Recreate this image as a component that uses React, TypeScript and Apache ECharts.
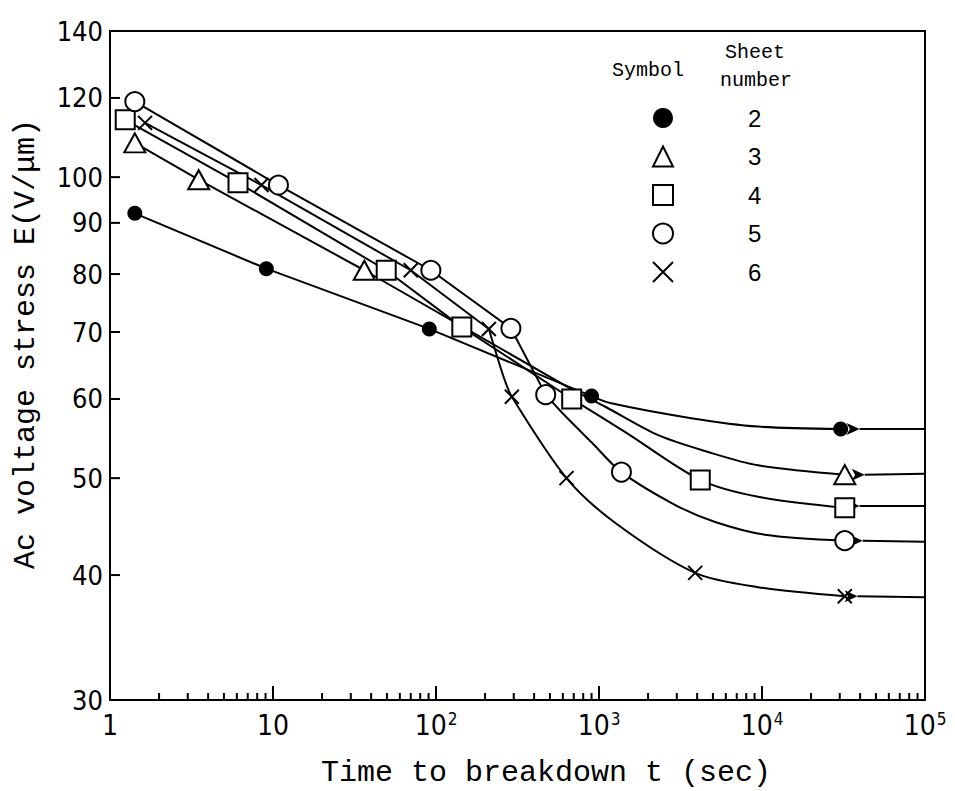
import React, { useEffect, useRef } from 'react';
import * as echarts from 'echarts';

// ---------- data (t in seconds, E in V/um) ----------
const sheetNames = ['2', '3', '4', '5', '6'];

const sheet2Markers = [[1.42, 92.0], [9.1, 81.0], [91, 70.5], [900, 60.4], [30400, 56.0]];
const sheet2Straight = [[1.42, 92.0], [9.1, 81.0], [91, 70.5], [900, 60.4]];
const sheet2Curve = [[900, 60.4], [1190, 59.4], [3680, 57.4], [9460, 56.3], [30400, 56.0]];
const sheet2Tail = [[39700, 56.0], [100000, 56.0]];

const sheet3Markers = [[1.42, 108.2], [3.5, 99.4], [36.3, 80.7], [32200, 50.4]];
const sheet3Straight = [[1.42, 108.2], [3.5, 99.4], [36.3, 80.7], [698, 61.2]];
const sheet3Curve = [[698, 61.2], [1100, 58.9], [2310, 55.2], [4680, 53.1], [9460, 51.5], [32200, 50.4]];
const sheet3Tail = [[42700, 50.4], [100000, 50.5]];

const sheet4Markers = [[1.24, 114.1], [6.1, 98.7], [49.5, 80.7], [144, 70.8], [680, 60.0], [4180, 49.8], [32200, 46.7]];
const sheet4Straight = [[1.24, 114.1], [6.1, 98.7], [49.5, 80.7], [144, 70.8], [680, 60.0]];
const sheet4Curve = [[680, 60.0], [1450, 55.6], [4180, 49.8], [9460, 47.9], [32200, 46.7]];
const sheet4Tail = [[39700, 46.9], [100000, 46.9]];

const sheet5Markers = [[1.42, 119.0], [10.8, 98.2], [93, 80.7], [288, 70.6], [471, 60.6], [1373, 50.7], [32200, 43.3]];
const sheet5Straight = [[1.42, 119.0], [10.8, 98.2], [93, 80.7], [288, 70.6], [471, 60.6]];
const sheet5Curve = [[471, 60.6], [590, 58.2], [900, 54.3], [1373, 50.7], [2940, 47.0], [5160, 45.2], [10400, 43.9], [32200, 43.3]];
const sheet5Tail = [[41500, 43.3], [100000, 43.2]];

const sheet6Markers = [[1.64, 113.3], [8.5, 98.2], [70, 80.7], [211, 70.5], [292, 60.3], [632, 50.0], [3890, 40.2], [32200, 38.1]];
const sheet6Straight = [[1.64, 113.3], [8.5, 98.2], [70, 80.7], [211, 70.5]];
const sheet6Curve = [[211, 70.5], [261, 63.0], [292, 60.3], [632, 50.0], [1260, 45.1], [3890, 40.2], [9460, 38.9], [32200, 38.1]];
const sheet6Tail = [[38600, 38.1], [100000, 38.0]];

const yTickValues = [30, 40, 50, 60, 70, 80, 90, 100, 120, 140];
const xDecades = [1, 10, 100, 1000, 10000];
const xMinorMultipliers = [2, 3, 4, 5, 6, 7, 8, 9];

// ---------- styles ----------
const black = '#000';
const monoFont = '"Liberation Mono", "DejaVu Sans Mono", monospace';
const tickFont = '"Liberation Sans Narrow", "DejaVu Sans Condensed", "Liberation Sans", sans-serif';
const numFont = '"Liberation Sans", "DejaVu Sans", sans-serif';

const sheets = [
  { name: '2', markers: sheet2Markers, straight: sheet2Straight, curve: sheet2Curve, tail: sheet2Tail,
    symbol: 'circle', symbolSize: 15, itemStyle: { color: black, opacity: 1 } },
  { name: '3', markers: sheet3Markers, straight: sheet3Straight, curve: sheet3Curve, tail: sheet3Tail,
    symbol: 'triangle', symbolSize: [21, 19], itemStyle: { color: '#fff', borderColor: black, borderWidth: 2, opacity: 1 } },
  { name: '4', markers: sheet4Markers, straight: sheet4Straight, curve: sheet4Curve, tail: sheet4Tail,
    symbol: 'rect', symbolSize: 19, itemStyle: { color: '#fff', borderColor: black, borderWidth: 2, opacity: 1 } },
  { name: '5', markers: sheet5Markers, straight: sheet5Straight, curve: sheet5Curve, tail: sheet5Tail,
    symbol: 'circle', symbolSize: 19, itemStyle: { color: '#fff', borderColor: black, borderWidth: 2, opacity: 1 } },
  { name: '6', markers: sheet6Markers, straight: sheet6Straight, curve: sheet6Curve, tail: sheet6Tail,
    symbol: 'path://M0,0L10,10M10,0L0,10', symbolSize: 14, itemStyle: { color: 'transparent', borderColor: black, borderWidth: 2, opacity: 1 } },
];

function buildOption() {
  const series: any[] = [];
  sheets.forEach((s) => {
    series.push({
      name: 'line-' + s.name, type: 'line', data: s.straight, symbol: 'none', smooth: false,
      lineStyle: { color: black, width: 2 }, z: 2, silent: true,
    });
    series.push({
      name: 'curve-' + s.name, type: 'line', data: s.curve, symbol: 'none', smooth: 0.3,
      lineStyle: { color: black, width: 2 }, z: 2, silent: true,
    });
    series.push({
      name: 'tail-' + s.name, type: 'line', symbol: 'none',
      data: [
        { value: s.tail[0], symbol: 'arrow', symbolSize: [9, 13], symbolRotate: -90, itemStyle: { color: black, opacity: 1 } },
        s.tail[1],
      ],
      lineStyle: { color: black, width: 2 }, z: 2, silent: true,
    });
    series.push({
      name: s.name, type: 'scatter', data: s.markers, symbol: s.symbol, symbolSize: s.symbolSize,
      itemStyle: s.itemStyle, z: 3, silent: true,
    });
  });

  // y-axis tick marks & labels at the chart's labelled values
  series.push({
    name: 'y-ticks', type: 'custom', clip: false, z: 5, silent: true,
    data: yTickValues.map((v) => [1, v]),
    encode: { x: 0, y: 1 },
    renderItem: (params: any, api: any) => {
      const v = api.value(1);
      const p = api.coord([1, v]);
      return {
        type: 'group',
        children: [
          { type: 'line', shape: { x1: p[0], y1: p[1], x2: p[0] + 10, y2: p[1] }, style: { stroke: black, lineWidth: 2 } },
          { type: 'text', x: p[0] - 7, y: p[1], style: { text: String(v), align: 'right', verticalAlign: 'middle', fontSize: 27, fontFamily: tickFont, fill: black } },
        ],
      };
    },
  });

  // x-axis minor ticks (2..9 of each decade)
  const minor: number[][] = [];
  xDecades.forEach((d) => xMinorMultipliers.forEach((m) => minor.push([d * m, 30])));
  series.push({
    name: 'x-minor', type: 'custom', clip: false, z: 5, silent: true,
    data: minor, encode: { x: 0, y: 1 },
    renderItem: (params: any, api: any) => {
      const p = api.coord([api.value(0), api.value(1)]);
      return { type: 'line', shape: { x1: p[0], y1: p[1], x2: p[0], y2: p[1] - 7 }, style: { stroke: black, lineWidth: 2 } };
    },
  });

  const sup = (e: number) => {
    if (e === 0) return '{b|1}';
    if (e === 1) return '{b|10}';
    return '{b|10}{s|' + e + '}';
  };

  return {
    animation: false,
    backgroundColor: '#fff',
    grid: { left: 110, top: 31, width: 815, height: 669, show: true, borderColor: black, borderWidth: 2, backgroundColor: 'transparent' },
    xAxis: {
      type: 'log', logBase: 10, min: 1, max: 100000,
      axisLine: { show: true, lineStyle: { color: black, width: 2 } },
      axisTick: { show: true, inside: true, length: 14, lineStyle: { color: black, width: 2 } },
      splitLine: { show: false },
      axisLabel: {
        show: true, margin: 10, color: black, showMinLabel: true, showMaxLabel: true,
        formatter: (v: number) => sup(Math.round(Math.log10(v))),
        rich: {
          b: { fontSize: 28, fontFamily: tickFont, color: black, lineHeight: 30 },
          s: { fontSize: 17, fontFamily: tickFont, color: black, lineHeight: 30, verticalAlign: 'top', padding: [0, 0, 10, 1] },
        },
      },
    },
    yAxis: {
      type: 'log', logBase: 10, min: 30, max: 140,
      axisLine: { show: true, lineStyle: { color: black, width: 2 } },
      axisTick: { show: false },
      axisLabel: { show: false },
      splitLine: { show: false },
    },
    legend: {
      data: sheetNames, orient: 'vertical', left: 647, top: 101, itemWidth: 20, itemHeight: 20, itemGap: 14.5,
      align: 'left', selectedMode: false,
      textStyle: { fontSize: 24, fontFamily: numFont, color: black, padding: [0, 0, 0, 70] },
    },
    graphic: [
      { type: 'text', x: 648, y: 70, style: { text: 'Symbol', fontSize: 20, fontFamily: monoFont, fill: black, align: 'center', verticalAlign: 'middle' } },
      { type: 'text', x: 755, y: 52, style: { text: 'Sheet', fontSize: 20, fontFamily: monoFont, fill: black, align: 'center', verticalAlign: 'middle' } },
      { type: 'text', x: 756, y: 80, style: { text: 'number', fontSize: 20, fontFamily: monoFont, fill: black, align: 'center', verticalAlign: 'middle' } },
      { type: 'text', x: 546, y: 773, style: { text: 'Time to breakdown t (sec)', fontSize: 30, fontFamily: monoFont, fill: black, align: 'center', verticalAlign: 'middle' } },
      { type: 'text', x: 26, y: 344, rotation: Math.PI / 2, style: { text: 'Ac voltage stress E(V/\u03bcm)', fontSize: 30, fontFamily: monoFont, fill: black, align: 'center', verticalAlign: 'middle' } },
    ],
    series,
  };
}

export default function App() {
  const ref = useRef<HTMLDivElement>(null);
  useEffect(() => {
    if (!ref.current) return;
    const chart = echarts.init(ref.current, null, { renderer: 'svg' });
    chart.setOption(buildOption() as any);
    return () => chart.dispose();
  }, []);
  return (
    <div
      ref={ref}
      style={{ position: 'fixed', left: 0, top: 0, width: 955, height: 791, background: '#fff' }}
    />
  );
}
